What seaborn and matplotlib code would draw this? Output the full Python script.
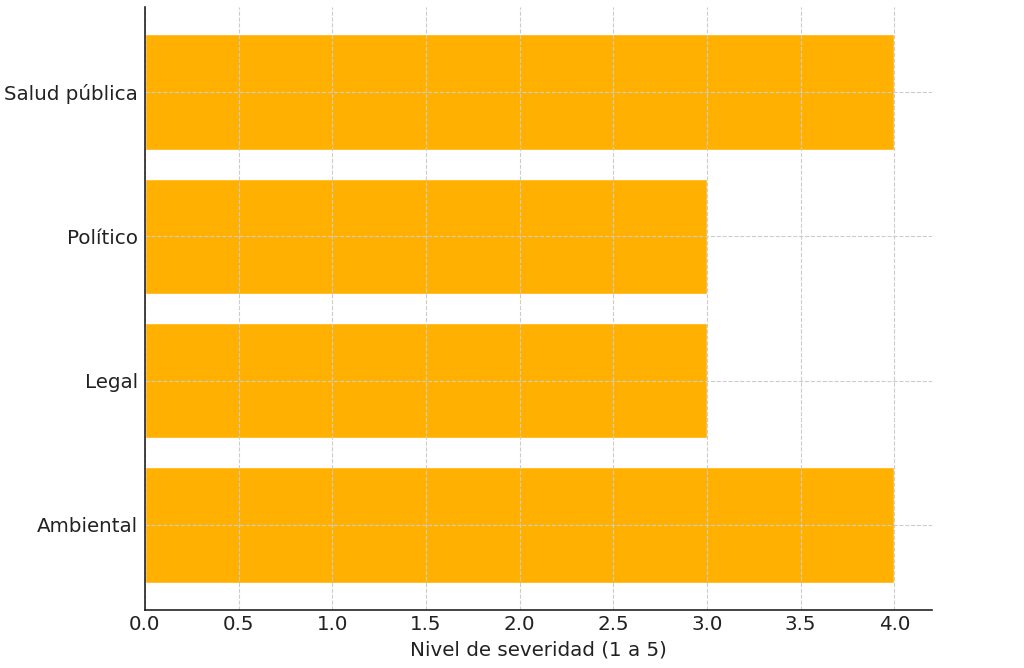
import pandas as pd
import matplotlib
matplotlib.use("Agg")
import matplotlib.pyplot as plt
import seaborn as sns

# Datos
categorias = ["Salud pública", "Político", "Legal", "Ambiental"]
severidad = [4, 3, 3, 4]

df = pd.DataFrame({"Categoria": categorias, "Severidad": severidad})

sns.set_style("white")
plt.rcParams["font.family"] = ["DejaVu Sans"]

fig, ax = plt.subplots(figsize=(10.24, 6.68), dpi=100)
sns.barplot(data=df, x="Severidad", y="Categoria", orient="h",
            color="#FFB000", saturation=1, width=0.8, ax=ax)

n = len(categorias)
ax.set_ylim(n - 0.41, -0.59)
ax.set_xlim(0, 4.2)
ax.set_xticks([0, 0.5, 1.0, 1.5, 2.0, 2.5, 3.0, 3.5, 4.0])

ax.grid(True, linestyle="--", color="#cccccc", linewidth=0.8)
ax.set_axisbelow(False)
sns.despine(ax=ax)
for s in ["left", "bottom"]:
    ax.spines[s].set_color("#222222")
    ax.spines[s].set_linewidth(1.2)
    ax.spines[s].set_zorder(4)

ax.tick_params(axis="both", labelsize=14.3, colors="#222222", length=4,
               direction="in", width=1)
ax.tick_params(axis="y", pad=5)
ax.set_xlabel("Nivel de severidad (1 a 5)", fontsize=14.3, color="#222222",
              labelpad=5)
ax.set_ylabel("")

fig.subplots_adjust(left=0.1416, right=0.910, top=0.9895, bottom=0.0868)
fig.savefig("out.png", dpi=100)
